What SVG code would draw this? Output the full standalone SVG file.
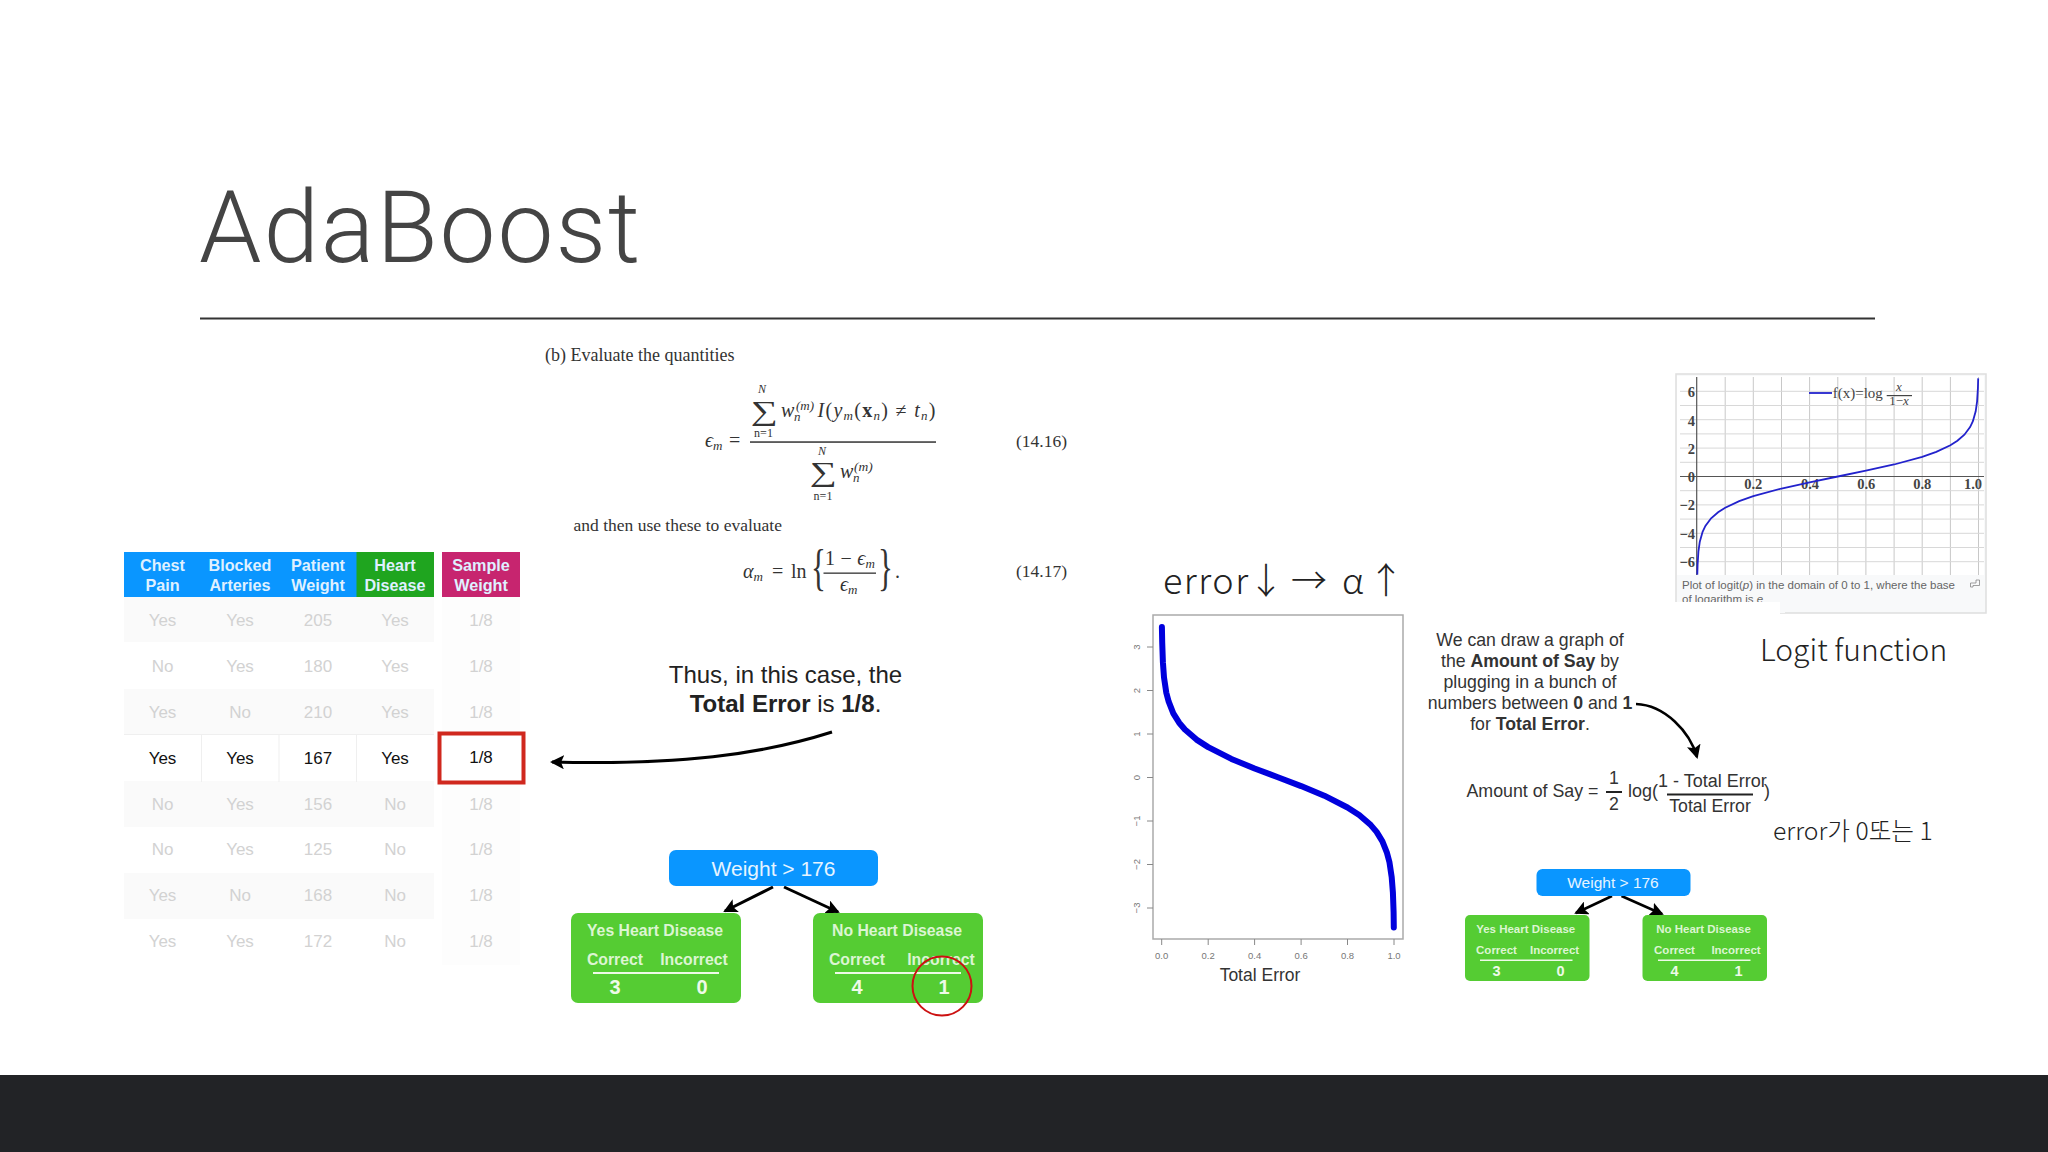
<svg xmlns="http://www.w3.org/2000/svg" width="2048" height="1152" viewBox="0 0 2048 1152">
<style>
text{font-family:"Liberation Sans",Arial,sans-serif}
.m{text-anchor:middle}
.b{font-weight:700}
.hd{font-size:16.200px;font-weight:700;fill:#dff0ff;text-anchor:middle}
.c{font-size:17px;fill:#d2d2d2;text-anchor:middle}
.k{font-size:17px;fill:#111;text-anchor:middle}
.s{font-family:"Liberation Serif",serif;fill:#333}
.i{font-style:italic}
.t18{font-size:17.700px;fill:#333;text-anchor:middle}
.g1{fill:#55cc33}
.bl{fill:#0a96ff}
.w1{font-size:15.800px;font-weight:700;fill:#dcf5d2;text-anchor:middle}
.w2{font-size:11.500px;font-weight:700;fill:#dcf5d2;text-anchor:middle}
.n1{font-size:20px;font-weight:700;fill:#eefae8;text-anchor:middle}
.n2{font-size:14.500px;font-weight:700;fill:#eefae8;text-anchor:middle}
.ty{font-size:9.500px;fill:#777;text-anchor:middle}
.lg{font-family:"Liberation Serif",serif;font-size:14.500px;font-weight:700;fill:#444}
.kr{font-family:"Noto Sans CJK KR",sans-serif;font-weight:300;fill:#222}
.ln{fill:none;stroke:#000;stroke-width:3}
</style>
<defs>
<marker id="ah" viewBox="0 0 14 14" refX="12" refY="7" markerWidth="14" markerHeight="14" markerUnits="userSpaceOnUse" orient="auto"><path d="M0 0L14 7L0 14L3 7Z" fill="#000"/></marker>
</defs>
<rect width="2048" height="1152" fill="#fff"/>
<rect id="footer" y="1075" width="2048" height="77" fill="#222326"/>
<g id="title">
<text x="199" y="262" font-size="100" letter-spacing="1.900" style="font-family:Roboto,sans-serif;font-weight:300" fill="#444">AdaBoost</text>
<rect x="200" y="317.500" width="1675" height="2" fill="#333"/>
</g>

<g id="table">
<g fill="#fafafa"><rect x="124" y="597" width="310" height="45"/><rect x="124" y="689" width="310" height="45"/><rect x="124" y="781" width="310" height="46"/><rect x="124" y="873" width="310" height="46"/></g>
<g fill="#fdfdfd"><rect x="442" y="597" width="78" height="135"/><rect x="442" y="784" width="78" height="181"/></g>
<rect x="124" y="735" width="310" height="46" fill="#fff"/>
<g stroke="#efefef" stroke-width="1" fill="none"><path d="M124 734.500H434M201.500 735V782M279 735V782M356.500 735V782"/></g>
<rect x="124" y="552" width="233" height="45" fill="#0a96ff"/>
<rect x="356.500" y="552" width="77.500" height="45" fill="#1fa51f"/>
<rect x="442" y="552" width="78" height="45" fill="#c7256f"/>
<text class="hd"><tspan x="162.500" y="571">Chest</tspan><tspan x="162.500" y="590.500">Pain</tspan></text>
<text class="hd"><tspan x="240" y="571">Blocked</tspan><tspan x="240" y="590.500">Arteries</tspan></text>
<text class="hd"><tspan x="318" y="571">Patient</tspan><tspan x="318" y="590.500">Weight</tspan></text>
<text class="hd"><tspan x="395" y="571">Heart</tspan><tspan x="395" y="590.500">Disease</tspan></text>
<text class="hd"><tspan x="481" y="571">Sample</tspan><tspan x="481" y="590.500">Weight</tspan></text>
<g class="c">
<text class="c" x="162.500" y="626">Yes</text><text class="c" x="240" y="626">Yes</text><text class="c" x="318" y="626">205</text><text class="c" x="395" y="626">Yes</text><text class="c" x="481" y="626">1/8</text>
<text class="c" x="162.500" y="672">No</text><text class="c" x="240" y="672">Yes</text><text class="c" x="318" y="672">180</text><text class="c" x="395" y="672">Yes</text><text class="c" x="481" y="672">1/8</text>
<text class="c" x="162.500" y="718">Yes</text><text class="c" x="240" y="718">No</text><text class="c" x="318" y="718">210</text><text class="c" x="395" y="718">Yes</text><text class="c" x="481" y="718">1/8</text>
<text class="k" x="162.500" y="764">Yes</text><text class="k" x="240" y="764">Yes</text><text class="k" x="318" y="764">167</text><text class="k" x="395" y="764">Yes</text><text class="k" x="481" y="763">1/8</text>
<text class="c" x="162.500" y="810">No</text><text class="c" x="240" y="810">Yes</text><text class="c" x="318" y="810">156</text><text class="c" x="395" y="810">No</text><text class="c" x="481" y="810">1/8</text>
<text class="c" x="162.500" y="855">No</text><text class="c" x="240" y="855">Yes</text><text class="c" x="318" y="855">125</text><text class="c" x="395" y="855">No</text><text class="c" x="481" y="855">1/8</text>
<text class="c" x="162.500" y="901">Yes</text><text class="c" x="240" y="901">No</text><text class="c" x="318" y="901">168</text><text class="c" x="395" y="901">No</text><text class="c" x="481" y="901">1/8</text>
<text class="c" x="162.500" y="947">Yes</text><text class="c" x="240" y="947">Yes</text><text class="c" x="318" y="947">172</text><text class="c" x="395" y="947">No</text><text class="c" x="481" y="947">1/8</text>
</g>
<rect x="439.500" y="733.500" width="84" height="49" fill="none" stroke="#d0281e" stroke-width="4"/>
</g>

<g id="formula" class="s">
<text class="s" x="545" y="361" font-size="18">(b) Evaluate the quantities</text>
<text class="s i" x="762" y="393" font-size="12" text-anchor="middle">N</text>
<text class="s" transform="translate(751 419.500) scale(1.05 .75)" font-size="36">∑</text>
<text class="s" x="763.500" y="437" font-size="12" text-anchor="middle">n=1</text>
<text class="s i" x="781" y="417" font-size="20">w</text>
<text class="s i" x="796" y="410" font-size="13">(m)</text>
<text class="s i" x="794" y="421" font-size="13">n</text>
<text class="s" x="817.500" y="417" font-size="20" textLength="118"><tspan class="i">I</tspan>(<tspan class="i">y</tspan><tspan class="i" font-size="13" dy="3">m</tspan><tspan dy="-3">(</tspan><tspan font-weight="700">x</tspan><tspan class="i" font-size="13" dy="3">n</tspan><tspan dy="-3">) ≠ </tspan><tspan class="i">t</tspan><tspan class="i" font-size="13" dy="3">n</tspan><tspan dy="-3">)</tspan></text>
<rect x="750" y="441.300" width="186" height="1.500" fill="#333"/>
<text class="s" x="705" y="447" font-size="20"><tspan class="i">ϵ</tspan><tspan class="i" font-size="13" dy="3">m</tspan></text>
<text class="s" x="729" y="447" font-size="20">=</text>
<text class="s" x="1016" y="446.500" font-size="17.500">(14.16)</text>
<text class="s i" x="822" y="455" font-size="12" text-anchor="middle">N</text>
<text class="s" transform="translate(810 480.500) scale(1.05 .75)" font-size="36">∑</text>
<text class="s" x="823" y="500" font-size="12" text-anchor="middle">n=1</text>
<text class="s i" x="840" y="478" font-size="20">w</text>
<text class="s i" x="854" y="471" font-size="13.500">(m)</text>
<text class="s i" x="853" y="482" font-size="13">n</text>
<text class="s" x="573.500" y="531" font-size="17.500">and then use these to evaluate</text>
<text class="s" x="743" y="578" font-size="20"><tspan class="i">α</tspan><tspan class="i" font-size="13" dy="3">m</tspan></text>
<text class="s" x="772" y="578" font-size="20">=</text>
<text class="s" x="791" y="578" font-size="20">ln</text>
<text class="s" transform="translate(811 584) scale(.62 1)" font-size="50">{</text>
<text class="s" x="825" y="565" font-size="20" textLength="50">1 − <tspan class="i">ϵ</tspan><tspan class="i" font-size="13" dy="3">m</tspan></text>
<rect x="823.500" y="572.500" width="52.500" height="1.300" fill="#333"/>
<text class="s" x="840" y="591" font-size="20"><tspan class="i">ϵ</tspan><tspan class="i" font-size="13" dy="3">m</tspan></text>
<text class="s" transform="translate(878 584) scale(.62 1)" font-size="50">}</text>
<text class="s" x="895" y="578" font-size="20">.</text>
<text class="s" x="1016" y="577" font-size="17.500">(14.17)</text>
</g>

<g id="note-total-error">
<text class="m" x="785.500" y="683" font-size="24" fill="#222">Thus, in this case, the</text>
<text class="m" x="785.500" y="712" font-size="24" fill="#222"><tspan class="b">Total Error</tspan> is <tspan class="b">1/8</tspan>.</text>
</g>

<g id="connectors">
<path class="ln" d="M832 732C760 755 680 765 552 762" marker-end="url(#ah)"/>
<path class="ln" d="M773 887L725 911" marker-end="url(#ah)"/>
<path class="ln" d="M784 887L838 912" marker-end="url(#ah)"/>
<path class="ln" style="stroke-width:2.500" d="M1636 704C1665 705 1690 732 1697 757" marker-end="url(#ah)"/>
<path class="ln" style="stroke-width:2.500" d="M1612 896L1576 913" marker-end="url(#ah)"/>
<path class="ln" style="stroke-width:2.500" d="M1621.500 896L1662 914" marker-end="url(#ah)"/>
</g>

<g id="tree1-root">
<rect class="bl" x="669" y="850" width="209" height="36" rx="7"/>
<text class="m" x="773.500" y="876" font-size="21" fill="#e6f4ff">Weight &gt; 176</text>
</g>
<g id="tree1-yes">
<rect class="g1" x="571" y="913" width="170" height="90" rx="7"/>
<text class="w1" x="655" y="936">Yes Heart Disease</text>
<text class="w1" x="615" y="965">Correct</text><text class="w1" x="694" y="965">Incorrect</text>
<rect x="593" y="972" width="126" height="2" fill="#eefae8"/>
<text class="n1" x="615" y="994">3</text><text class="n1" x="702" y="994">0</text>
</g>
<g id="tree1-no">
<rect class="g1" x="813" y="913" width="170" height="90" rx="7"/>
<text class="w1" x="897" y="936">No Heart Disease</text>
<text class="w1" x="857" y="965">Correct</text><text class="w1" x="941" y="965">Incorrect</text>
<rect x="835" y="972" width="126" height="2" fill="#eefae8"/>
<text class="n1" x="857" y="994">4</text><text class="n1" x="944" y="994">1</text>
<circle cx="942" cy="986" r="29.500" fill="none" stroke="#cc1111" stroke-width="2"/>
</g>

<g id="error-alpha">
<text class="kr" y="594" font-size="36"><tspan x="1163" letter-spacing="1.500">error</tspan><tspan x="1248">↓</tspan><tspan x="1291">→</tspan><tspan x="1342">α</tspan><tspan x="1368">↑</tspan></text>
</g>

<g id="amount-chart">
<rect x="1153" y="615" width="250" height="324" fill="#fff" stroke="#aaa" stroke-width="1.500"/>
<path d="M1147 647H1153M1147 690.500H1153M1147 734H1153M1147 777.500H1153M1147 821H1153M1147 864.500H1153M1147 908H1153M1161.700 939V945M1208.200 939V945M1254.600 939V945M1301.100 939V945M1347.500 939V945M1394 939V945" stroke="#888" stroke-width="1" fill="none"/>
<g class="ty">
<text class="ty" transform="translate(1140 647) rotate(-90)">3</text>
<text class="ty" transform="translate(1140 690.500) rotate(-90)">2</text>
<text class="ty" transform="translate(1140 734) rotate(-90)">1</text>
<text class="ty" transform="translate(1140 777.500) rotate(-90)">0</text>
<text class="ty" transform="translate(1140 821) rotate(-90)">−1</text>
<text class="ty" transform="translate(1140 864.500) rotate(-90)">−2</text>
<text class="ty" transform="translate(1140 908) rotate(-90)">−3</text>
<text class="ty" x="1161.700" y="959">0.0</text><text class="ty" x="1208.200" y="959">0.2</text><text class="ty" x="1254.600" y="959">0.4</text><text class="ty" x="1301.100" y="959">0.6</text><text class="ty" x="1347.500" y="959">0.8</text><text class="ty" x="1394" y="959">1.0</text>
</g>
<text class="m" x="1260" y="981" font-size="17.500" fill="#333">Total Error</text>
<path d="M1161.900 627.100L1162.200 642.200L1162.900 662.200L1164 677.400L1166.300 692.700L1168.700 701.700L1173.300 713.300L1179.100 722.700L1184.900 729.500L1196.500 739.600L1208.200 747.100L1231.400 758.900L1254.600 768.500L1277.900 777.300L1301.100 786.100L1324.300 795.700L1347.500 807.500L1359.200 815L1370.800 825.100L1376.600 831.900L1382.400 841.300L1387 852.900L1389.400 861.900L1391.700 877.200L1392.900 892.400L1393.600 912.400L1393.800 927.500" fill="none" stroke="#0000dd" stroke-width="6" stroke-linecap="round" stroke-linejoin="round"/>
</g>

<g id="note-amount">
<text class="t18"><tspan x="1530" y="646">We can draw a graph of</tspan><tspan x="1530" y="667">the <tspan class="b">Amount of Say</tspan> by</tspan><tspan x="1530" y="688">plugging in a bunch of</tspan><tspan x="1530" y="709">numbers between <tspan class="b">0</tspan> and <tspan class="b">1</tspan></tspan><tspan x="1530" y="730">for <tspan class="b">Total Error</tspan>.</tspan></text>
</g>
<g id="amount-formula" fill="#333" font-size="18">
<text x="1466.500" y="797" font-size="17.800" fill="#333">Amount of Say =</text>
<text class="t18" x="1614" y="784">1</text>
<rect x="1606" y="791" width="16" height="2" fill="#222"/>
<text class="t18" x="1614" y="810">2</text>
<text x="1628" y="797" font-size="18" fill="#333">log(</text>
<text x="1658" y="787" font-size="18" fill="#333">1 - Total Error</text>
<rect x="1667" y="793.500" width="86" height="2" fill="#222"/>
<text class="t18" x="1710" y="812">Total Error</text>
<text x="1764" y="797" font-size="18" fill="#333">)</text>
</g>
<g id="note-error-korean"><text class="kr" x="1773" y="840" font-size="24.700" style="font-family:&quot;Noto Sans CJK KR&quot;,sans-serif">error가 0또는 1</text></g>
<g id="note-logit"><text class="kr" x="1760" y="661" font-size="30">Logit function</text></g>

<g id="tree2-root">
<rect class="bl" x="1536.500" y="869" width="154" height="27" rx="6"/>
<text class="m" x="1613" y="888" font-size="15.500" fill="#e6f4ff">Weight &gt; 176</text>
</g>
<g id="tree2-yes">
<rect class="g1" x="1465" y="915" width="124.500" height="66" rx="5"/>
<text class="w2" x="1525.700" y="933">Yes Heart Disease</text>
<text class="w2" x="1496.500" y="954">Correct</text><text class="w2" x="1554.600" y="954">Incorrect</text>
<rect x="1480" y="959.500" width="92.500" height="1.500" fill="#eefae8"/>
<text class="n2" x="1496.500" y="975.500">3</text><text class="n2" x="1560.500" y="975.500">0</text>
</g>
<g id="tree2-no">
<rect class="g1" x="1642.500" y="915" width="124.500" height="66" rx="5"/>
<text class="w2" x="1703.500" y="933">No Heart Disease</text>
<text class="w2" x="1674.500" y="954">Correct</text><text class="w2" x="1736" y="954">Incorrect</text>
<rect x="1658" y="959.500" width="92.500" height="1.500" fill="#eefae8"/>
<text class="n2" x="1674.500" y="975.500">4</text><text class="n2" x="1738.500" y="975.500">1</text>
</g>

<g id="logit-chart">
<rect x="1676" y="374" width="310" height="239" fill="#f8f9fa" stroke="#dedede" stroke-width="1.500"/>
<rect x="1677" y="376" width="307" height="199" fill="#fff"/>
<path d="M1725.200 377V575M1753.300 377V575M1781.500 377V575M1809.600 377V575M1837.800 377V575M1865.900 377V575M1894.100 377V575M1922.200 377V575M1950.400 377V575M1978.500 377V575" stroke="#c8c8c8" stroke-width="1" fill="none"/>
<path d="M1680 391.300H1984M1680 405.500H1984M1680 419.700H1984M1680 433.900H1984M1680 448.100H1984M1680 462.300H1984M1680 490.700H1984M1680 504.900H1984M1680 519.100H1984M1680 533.300H1984M1680 547.500H1984M1680 561.700H1984" stroke="#d8d8d8" stroke-width="1" fill="none"/>
<path d="M1696.700 377V575M1680 476.500H1984" stroke="#555" stroke-width="1.200" fill="none"/>
<g class="lg">
<text class="lg" x="1695" y="397" text-anchor="end">6</text><text class="lg" x="1695" y="425.500" text-anchor="end">4</text><text class="lg" x="1695" y="454" text-anchor="end">2</text><text class="lg" x="1695" y="482" text-anchor="end">0</text><text class="lg" x="1695" y="510" text-anchor="end">−2</text><text class="lg" x="1695" y="538.500" text-anchor="end">−4</text><text class="lg" x="1695" y="567" text-anchor="end">−6</text>
<text class="lg" x="1753.300" y="489" text-anchor="middle">0.2</text><text class="lg" x="1810" y="489" text-anchor="middle">0.4</text><text class="lg" x="1866.300" y="489" text-anchor="middle">0.6</text><text class="lg" x="1922.300" y="489" text-anchor="middle">0.8</text><text class="lg" x="1973" y="489" text-anchor="middle">1.0</text>
</g>
<path d="M1697.300 574.600L1697.600 564.700L1698.400 551.700L1699.800 541.700L1702.600 531.800L1705.400 525.900L1711.100 518.300L1718.100 512.200L1725.200 507.700L1739.200 501.100L1753.300 496.200L1781.500 488.500L1809.600 482.300L1837.800 476.500L1865.900 470.700L1894.100 464.500L1922.200 456.800L1936.300 451.900L1950.400 445.300L1957.400 440.800L1964.400 434.700L1970.100 427.100L1972.900 421.200L1975.700 411.300L1977.100 401.300L1977.900 388.300L1978.200 378.400" fill="none" stroke="#2222cc" stroke-width="1.800"/>
<path d="M1809 393H1832" stroke="#2222cc" stroke-width="1.800"/>
<text class="lg" x="1832.700" y="398" fill="#222" style="font-size:15px;font-weight:400">f(x)=log</text>
<text class="lg i" x="1899" y="391" text-anchor="middle" style="font-size:13px;font-weight:400">x</text>
<rect x="1886.700" y="395" width="25.300" height="1.200" fill="#444"/>
<text class="lg" x="1899" y="405" text-anchor="middle" style="font-size:13px;font-weight:400">1−<tspan class="i">x</tspan></text>
<text x="1682" y="589" font-size="11.500" fill="#666">Plot of logit(<tspan font-style="italic">p</tspan>) in the domain of 0 to 1, where the base</text>
<text x="1682" y="603" font-size="11.500" fill="#666">of logarithm is <tspan font-style="italic">e</tspan></text>
<rect x="1677" y="602" width="108" height="11" fill="#f8f9fa"/>
<rect x="1785" y="602" width="200" height="10" fill="#f8f9fa"/>
<rect x="1670" y="602" width="110" height="18" fill="#fff"/>
<path d="M1970.500 583H1976V580H1979.500V585.500H1973V587H1970.500Z" fill="none" stroke="#888" stroke-width="0.800"/>
</g>
</svg>
